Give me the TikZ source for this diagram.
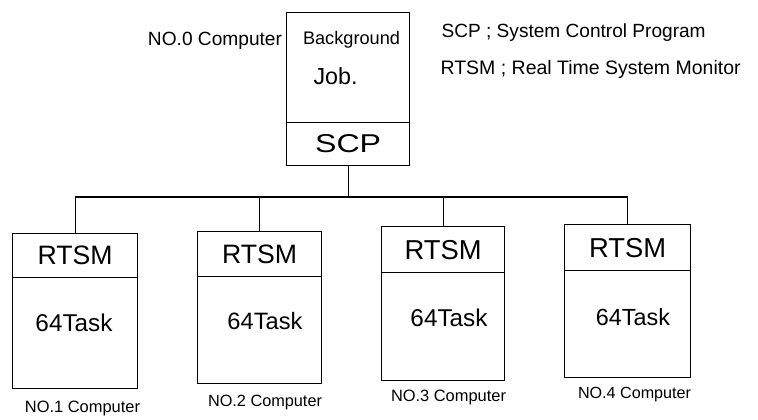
\documentclass[tikz,border=0pt]{standalone}
\usepackage{fontspec}
\setmainfont{Liberation Sans}
\usepackage{graphicx}
\newcommand{\fitw}[2]{\resizebox{#1pt}{!}{#2}}
\begin{document}
\begin{tikzpicture}[x=1pt,y=-1pt,line width=1.2pt,
  box/.style={draw,inner sep=0pt,anchor=north west},
  lbl/.style={inner sep=0pt}]
\useasboundingbox (0,0) rectangle (758,420);
% top computer
\node[box,minimum width=123pt,minimum height=110pt] (bg) at (286,12) {};
\node[box,minimum width=123pt,minimum height=43pt] (scp) at (286,122) {\resizebox{66pt}{18pt}{SCP}};
\node[lbl] (bgtxt) at (351.5,40) {\fitw{97}{Background}};
\node[lbl,anchor=west] (job) at (313,76) {\fitw{44}{Job.}};
\node[lbl] (no0) at (215,41) {\fitw{134}{NO.0 Computer}};
% legend
\node[lbl,anchor=west] (leg1) at (441,33) {\fitw{264}{SCP ; System Control Program}};
\node[lbl,anchor=west] (leg2) at (440,69) {\fitw{300}{RTSM ; Real Time System Monitor}};
% lower computers
\node[box,minimum width=125pt,minimum height=44pt] (rtsm1) at (12,233) {\fitw{75}{RTSM}};
\node[box,minimum width=125pt,minimum height=111pt] (task1) at (12,277) {};
\node[box,minimum width=124pt,minimum height=45pt] (rtsm2) at (197,231) {\fitw{75}{RTSM}};
\node[box,minimum width=124pt,minimum height=107pt] (task2) at (197,276) {};
\node[box,minimum width=123pt,minimum height=46pt] (rtsm3) at (381,226) {\fitw{77}{RTSM}};
\node[box,minimum width=123pt,minimum height=108pt] (task3) at (381,272) {};
\node[box,minimum width=126pt,minimum height=46pt] (rtsm4) at (564,224) {\fitw{77}{RTSM}};
\node[box,minimum width=126pt,minimum height=107pt] (task4) at (564,270) {};
\node[lbl] (t1) at (74,323) {\fitw{77}{64Task}};
\node[lbl] (t2) at (265,321) {\fitw{75}{64Task}};
\node[lbl] (t3) at (449,318) {\fitw{77}{64Task}};
\node[lbl] (t4) at (633,317) {\fitw{74}{64Task}};
\node[lbl] (no1) at (82.5,408) {\fitw{115}{NO.1 Computer}};
\node[lbl] (no2) at (265,403) {\fitw{114}{NO.2 Computer}};
\node[lbl] (no3) at (448.5,397) {\fitw{115}{NO.3 Computer}};
\node[lbl] (no4) at (634.5,395) {\fitw{113}{NO.4 Computer}};
% connectors
\coordinate (bus) at (0,197);
\draw (scp.south) -- (scp.south |- bus);
\draw (rtsm1.north) -- (rtsm1.north |- bus) -- (rtsm4.north |- bus) -- (rtsm4.north);
\draw (rtsm2.north) -- (rtsm2.north |- bus);
\draw (rtsm3.north) -- (rtsm3.north |- bus);
\end{tikzpicture}
\end{document}
